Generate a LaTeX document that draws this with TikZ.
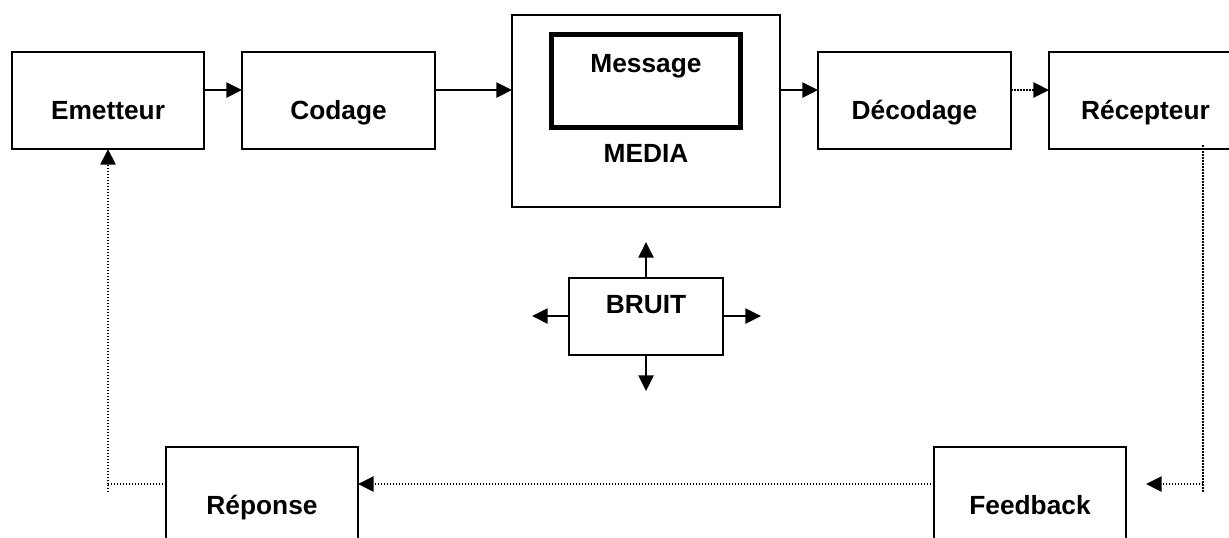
\documentclass[tikz,border=0pt]{standalone}
\usepackage{fontspec}
\setmainfont{Liberation Sans}
\usetikzlibrary{arrows.meta}
\begin{document}
\begin{tikzpicture}[x=0.5pt,y=-0.5pt,
  box/.style={draw=black,line width=0.9pt,fill=white,rectangle,inner sep=0pt,outer sep=0pt,minimum width=96pt,minimum height=48.5pt},
  thickbox/.style={draw=black,line width=2.5pt,rectangle,inner sep=0pt,outer sep=0pt,minimum width=94.5pt,minimum height=46.5pt},
  lbl/.style={anchor=base,inner sep=0pt,font=\fontsize{13.15pt}{15pt}\selectfont\bfseries},
  arr/.style={line width=0.75pt,-{Triangle[length=7.8pt,width=7.6pt]}},
  dotarr/.style={line width=0.85pt,dash pattern=on 0.75pt off 0.75pt,-{Triangle[length=7.8pt,width=7.6pt]}},
  dotline/.style={line width=0.85pt,dash pattern=on 0.75pt off 0.75pt}]
\useasboundingbox (0,0) rectangle (1229,537);
\clip (0,0) rectangle (1229,537);
% boxes
\node[box] (em) at (108,100.5) {};
\node[box,minimum width=96.5pt] (cod) at (338.5,100.5) {};
\node[box,minimum width=134pt,minimum height=96pt] (med) at (646,111) {};
\node[thickbox] (msg) at (646,81) {};
\node[box,minimum width=96.5pt] (dec) at (914.5,100.5) {};
\node[box,minimum width=96.5pt] (rec) at (1145.5,100.5) {};
\node[box,minimum width=77pt,minimum height=38.5pt] (br) at (646,316.5) {};
\node[box] (rep) at (262,495.5) {};
\node[box] (fb) at (1030,495.5) {};
% labels
\node[lbl] (emt) at (108,119) {Emetteur};
\node[lbl] (codt) at (338.5,119) {Codage};
\node[lbl] (msgt) at (646,72) {Message};
\node[lbl] (medt) at (646,162) {MEDIA};
\node[lbl] (dect) at (914.5,119) {Décodage};
\node[lbl] (rect) at (1145.5,119) {Récepteur};
\node[lbl] (brt) at (646,313) {BRUIT};
\node[lbl] (rept) at (262,514) {Réponse};
\node[lbl] (fbt) at (1030,514) {Feedback};
% helper coordinates
\coordinate (rowA) at (0,90);
\coordinate (rowB) at (0,484);
\coordinate (rc) at (1203,484);
\coordinate (rcEnd) at (1203,492);
\coordinate (fbin) at (1146,484);
\coordinate (lc) at (108,484);
\coordinate (lcEnd) at (108,492);
\coordinate (bn) at (646,242);
\coordinate (bs) at (646,391);
\coordinate (bw) at (532,316);
\coordinate (be) at (761,316);
% top row connectors
\draw[arr] (em.east |- rowA) -- (cod.west |- rowA);
\draw[arr] (cod.east |- rowA) -- (med.west |- rowA);
\draw[arr] (med.east |- rowA) -- (dec.west |- rowA);
\draw[dotarr] (dec.east |- rowA) -- (rec.west |- rowA);
% feedback loop
\draw[dotline] ([yshift=2pt]rec.south -| rc) -- (rcEnd);
\draw[dotarr] (rc) -- (fbin);
\draw[dotarr] (fb.west |- rowB) -- (rep.east |- rowB);
\draw[dotline] (rep.west |- rowB) -- (lc);
\draw[dotline] (lcEnd) -- (lc);
\draw[dotarr] (lc) -- (em.south);
% noise arrows
\draw[arr] (br.north) -- (bn);
\draw[arr] (br.south) -- (bs);
\draw[arr] (br.west |- bw) -- (bw);
\draw[arr] (br.east |- be) -- (be);
\end{tikzpicture}
\end{document}
